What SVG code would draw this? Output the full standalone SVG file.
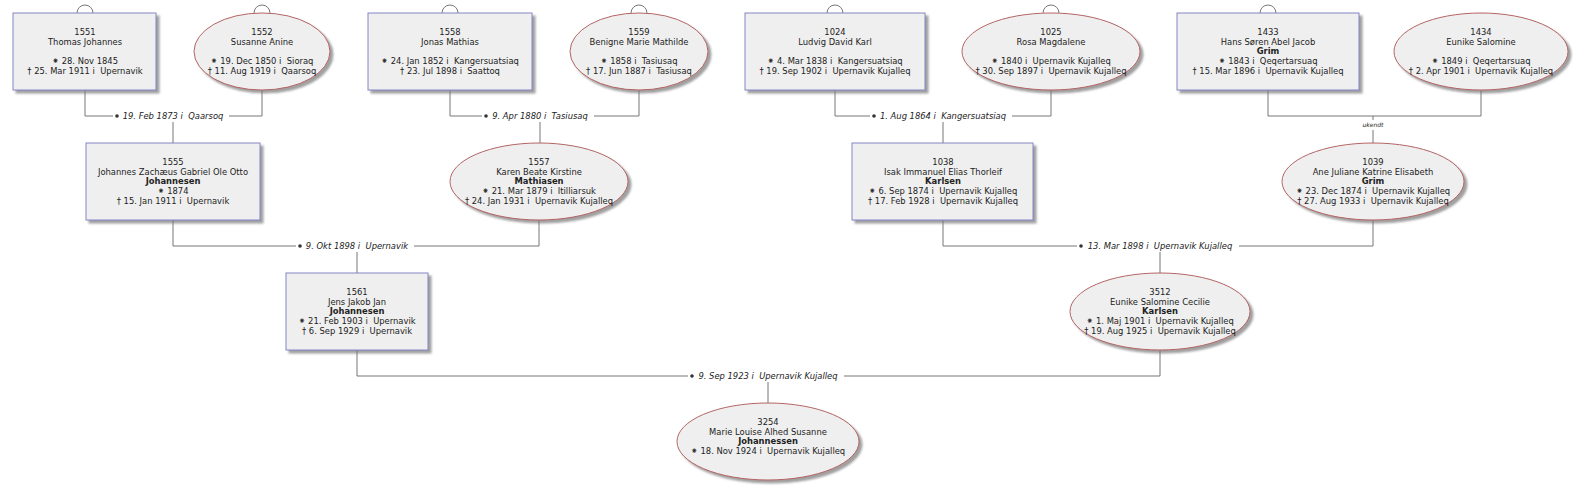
<svg xmlns="http://www.w3.org/2000/svg" width="1582" height="500" viewBox="0 0 1582 500">
<defs>
<filter id="sh" x="-10%" y="-10%" width="130%" height="140%"><feDropShadow dx="3" dy="3" stdDeviation="1.2" flood-color="#777" flood-opacity="0.7"/></filter>
<style>
.t{font-family:"DejaVu Sans","Liberation Sans",sans-serif;font-size:8.4px;fill:#222;text-anchor:middle;white-space:pre}
.b{font-weight:bold}
.i{font-style:italic}
.s{font-size:6px}
.m{stroke:#8484c4;fill:#efefef;stroke-width:1}
.f{stroke:#b46464;fill:#efefef;stroke-width:1}
.c{stroke:#777;fill:none;stroke-width:1}
.d{fill:#333}
</style>
</defs>
<rect width="1582" height="500" fill="#fff"/>
<g id="connectors">
<path class="c" d="M85,90V116H113M229,116H262V90M173,122V143"/>
<path class="c" d="M450,90V116H482M594,116H639V90M540,122V143"/>
<path class="c" d="M835,90V116H870M1012,116H1051V90M943,122V143"/>
<path class="c" d="M1268,90V116H1481V90M1373,116V120M1373,130V143"/>
<path class="c" d="M173,220V246H296M414,246H539V220M357,252V273"/>
<path class="c" d="M943,220V246H1077M1239,246H1373V220M1160,252V273"/>
<path class="c" d="M357,350V376H688M844,376H1160V350M768,382V403"/>
<path class="c" d="M77,13A8,8 0 0 1 93,13M254,13A8,8 0 0 1 270,13M442,13A8,8 0 0 1 458,13M631,13A8,8 0 0 1 647,13M827,13A8,8 0 0 1 843,13M1043,13A8,8 0 0 1 1059,13M1260,13A8,8 0 0 1 1276,13"/>
<circle class="d" cx="117" cy="116" r="1.8"/>
<text class="t i" x="173" y="119" xml:space="preserve">19. Feb 1873 i  Qaarsoq</text>
<circle class="d" cx="486" cy="116" r="1.8"/>
<text class="t i" x="540" y="119" xml:space="preserve">9. Apr 1880 i  Tasiusaq</text>
<circle class="d" cx="874" cy="116" r="1.8"/>
<text class="t i" x="943" y="119" xml:space="preserve">1. Aug 1864 i  Kangersuatsiaq</text>
<text class="t i s" x="1373" y="127">ukendt</text>
<circle class="d" cx="300" cy="246" r="1.8"/>
<text class="t i" x="357" y="249" xml:space="preserve">9. Okt 1898 i  Upernavik</text>
<circle class="d" cx="1081" cy="246" r="1.8"/>
<text class="t i" x="1160" y="249" xml:space="preserve">13. Mar 1898 i  Upernavik Kujalleq</text>
<circle class="d" cx="692" cy="376" r="1.8"/>
<text class="t i" x="768" y="379" xml:space="preserve">9. Sep 1923 i  Upernavik Kujalleq</text>
</g>
<g id="n1551"><rect class="m" x="13" y="13" width="143" height="77" filter="url(#sh)"/>
<text class="t" x="85" y="34.8">1551</text><text class="t" x="85" y="44.6">Thomas Johannes</text>
<text class="t" x="85" y="64.2">⁕ 28. Nov 1845</text><text class="t" x="85" y="74" xml:space="preserve">† 25. Mar 1911 i  Upernavik</text></g>
<g id="n1552"><ellipse class="f" cx="262" cy="51.5" rx="68" ry="38.5" filter="url(#sh)"/>
<text class="t" x="262" y="34.8">1552</text><text class="t" x="262" y="44.6">Susanne Anine</text>
<text class="t" x="262" y="64.2" xml:space="preserve">⁕ 19. Dec 1850 i  Sioraq</text><text class="t" x="262" y="74" xml:space="preserve">† 11. Aug 1919 i  Qaarsoq</text></g>
<g id="n1558"><rect class="m" x="368" y="13" width="164" height="77" filter="url(#sh)"/>
<text class="t" x="450" y="34.8">1558</text><text class="t" x="450" y="44.6">Jonas Mathias</text>
<text class="t" x="450" y="64.2" xml:space="preserve">⁕ 24. Jan 1852 i  Kangersuatsiaq</text><text class="t" x="450" y="74" xml:space="preserve">† 23. Jul 1898 i  Saattoq</text></g>
<g id="n1559"><ellipse class="f" cx="639" cy="51.5" rx="69" ry="38.5" filter="url(#sh)"/>
<text class="t" x="639" y="34.8">1559</text><text class="t" x="639" y="44.6">Benigne Marie Mathilde</text>
<text class="t" x="639" y="64.2" xml:space="preserve">⁕ 1858 i  Tasiusaq</text><text class="t" x="639" y="74" xml:space="preserve">† 17. Jun 1887 i  Tasiusaq</text></g>
<g id="n1024"><rect class="m" x="745" y="13" width="180" height="77" filter="url(#sh)"/>
<text class="t" x="835" y="34.8">1024</text><text class="t" x="835" y="44.6">Ludvig David Karl</text>
<text class="t" x="835" y="64.2" xml:space="preserve">⁕ 4. Mar 1838 i  Kangersuatsiaq</text><text class="t" x="835" y="74" xml:space="preserve">† 19. Sep 1902 i  Upernavik Kujalleq</text></g>
<g id="n1025"><ellipse class="f" cx="1051" cy="51.5" rx="89" ry="38.5" filter="url(#sh)"/>
<text class="t" x="1051" y="34.8">1025</text><text class="t" x="1051" y="44.6">Rosa Magdalene</text>
<text class="t" x="1051" y="64.2" xml:space="preserve">⁕ 1840 i  Upernavik Kujalleq</text><text class="t" x="1051" y="74" xml:space="preserve">† 30. Sep 1897 i  Upernavik Kujalleq</text></g>
<g id="n1433"><rect class="m" x="1177" y="13" width="182" height="77" filter="url(#sh)"/>
<text class="t" x="1268" y="34.8">1433</text><text class="t" x="1268" y="44.6">Hans Søren Abel Jacob</text><text class="t b" x="1268" y="54.4">Grim</text>
<text class="t" x="1268" y="64.2" xml:space="preserve">⁕ 1843 i  Qeqertarsuaq</text><text class="t" x="1268" y="74" xml:space="preserve">† 15. Mar 1896 i  Upernavik Kujalleq</text></g>
<g id="n1434"><ellipse class="f" cx="1481" cy="51.5" rx="87" ry="38.5" filter="url(#sh)"/>
<text class="t" x="1481" y="34.8">1434</text><text class="t" x="1481" y="44.6">Eunike Salomine</text>
<text class="t" x="1481" y="64.2" xml:space="preserve">⁕ 1849 i  Qeqertarsuaq</text><text class="t" x="1481" y="74" xml:space="preserve">† 2. Apr 1901 i  Upernavik Kujalleq</text></g>
<g id="n1555"><rect class="m" x="86" y="143" width="174" height="77" filter="url(#sh)"/>
<text class="t" x="173" y="164.8">1555</text><text class="t" x="173" y="174.6">Johannes Zachæus Gabriel Ole Otto</text><text class="t b" x="173" y="184.4">Johannesen</text>
<text class="t" x="173" y="194.2">⁕ 1874</text><text class="t" x="173" y="204" xml:space="preserve">† 15. Jan 1911 i  Upernavik</text></g>
<g id="n1557"><ellipse class="f" cx="539" cy="181.5" rx="89" ry="38.5" filter="url(#sh)"/>
<text class="t" x="539" y="164.8">1557</text><text class="t" x="539" y="174.6">Karen Beate Kirstine</text><text class="t b" x="539" y="184.4">Mathiasen</text>
<text class="t" x="539" y="194.2" xml:space="preserve">⁕ 21. Mar 1879 i  Itilliarsuk</text><text class="t" x="539" y="204" xml:space="preserve">† 24. Jan 1931 i  Upernavik Kujalleq</text></g>
<g id="n1038"><rect class="m" x="852" y="143" width="181" height="77" filter="url(#sh)"/>
<text class="t" x="943" y="164.8">1038</text><text class="t" x="943" y="174.6">Isak Immanuel Elias Thorleif</text><text class="t b" x="943" y="184.4">Karlsen</text>
<text class="t" x="943" y="194.2" xml:space="preserve">⁕ 6. Sep 1874 i  Upernavik Kujalleq</text><text class="t" x="943" y="204" xml:space="preserve">† 17. Feb 1928 i  Upernavik Kujalleq</text></g>
<g id="n1039"><ellipse class="f" cx="1373" cy="181.5" rx="91" ry="38.5" filter="url(#sh)"/>
<text class="t" x="1373" y="164.8">1039</text><text class="t" x="1373" y="174.6">Ane Juliane Katrine Elisabeth</text><text class="t b" x="1373" y="184.4">Grim</text>
<text class="t" x="1373" y="194.2" xml:space="preserve">⁕ 23. Dec 1874 i  Upernavik Kujalleq</text><text class="t" x="1373" y="204" xml:space="preserve">† 27. Aug 1933 i  Upernavik Kujalleq</text></g>
<g id="n1561"><rect class="m" x="286" y="273" width="142" height="77" filter="url(#sh)"/>
<text class="t" x="357" y="294.8">1561</text><text class="t" x="357" y="304.6">Jens Jakob Jan</text><text class="t b" x="357" y="314.4">Johannesen</text>
<text class="t" x="357" y="324.2" xml:space="preserve">⁕ 21. Feb 1903 i  Upernavik</text><text class="t" x="357" y="334" xml:space="preserve">† 6. Sep 1929 i  Upernavik</text></g>
<g id="n3512"><ellipse class="f" cx="1160" cy="311.5" rx="90" ry="38.5" filter="url(#sh)"/>
<text class="t" x="1160" y="294.8">3512</text><text class="t" x="1160" y="304.6">Eunike Salomine Cecilie</text><text class="t b" x="1160" y="314.4">Karlsen</text>
<text class="t" x="1160" y="324.2" xml:space="preserve">⁕ 1. Maj 1901 i  Upernavik Kujalleq</text><text class="t" x="1160" y="334" xml:space="preserve">† 19. Aug 1925 i  Upernavik Kujalleq</text></g>
<g id="n3254"><ellipse class="f" cx="768" cy="441.5" rx="91" ry="38.5" filter="url(#sh)"/>
<text class="t" x="768" y="424.8">3254</text><text class="t" x="768" y="434.6">Marie Louise Alhed Susanne</text><text class="t b" x="768" y="444.4">Johannessen</text>
<text class="t" x="768" y="454.2" xml:space="preserve">⁕ 18. Nov 1924 i  Upernavik Kujalleq</text></g>
</svg>
